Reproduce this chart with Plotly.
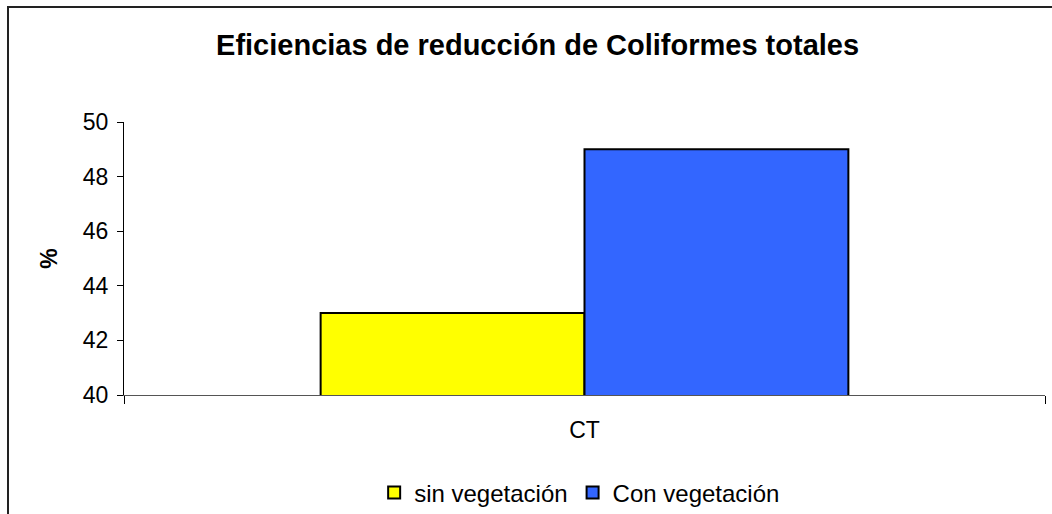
import plotly.graph_objects as go

categories = ["CT"]
sin_veg = [43]
con_veg = [49]
series_names = ["sin vegetación", "Con vegetación"]
y_ticks = [40, 42, 44, 46, 48, 50]

W, H = 1052, 514
L, R, T, B = 124, 7, 122, 119
plot_w = W - L - R
plot_h = H - T - B

fig = go.Figure()
fig.add_trace(go.Bar(x=categories, y=sin_veg, name=series_names[0],
                     marker=dict(color="#FFFF00", line=dict(color="black", width=2))))
fig.add_trace(go.Bar(x=categories, y=con_veg, name=series_names[1],
                     marker=dict(color="#3366FF", line=dict(color="black", width=2))))

# outer chart border (right and bottom edges fall outside the picture)
fig.add_shape(type="rect", xref="paper", yref="paper",
              x0=(8 - L) / plot_w, x1=(W + 20 - L) / plot_w,
              y0=-(B + 20) / plot_h, y1=1 + (T - 7) / plot_h,
              line=dict(color="#222222", width=2), fillcolor="rgba(0,0,0,0)")

fig.update_layout(
    width=W, height=H,
    margin=dict(l=L, r=R, t=T, b=B, autoexpand=False),
    paper_bgcolor="white", plot_bgcolor="white",
    barmode="group", bargap=0.427, bargroupgap=0,
    font=dict(family="Liberation Sans, Arial", color="black", size=23),
    title=dict(text="<b>Eficiencias de reducción de Coliformes totales</b>",
               x=0.511, xanchor="center", y=1 - 45 / H, yanchor="middle",
               font=dict(size=29)),
    showlegend=True,
    legend=dict(orientation="h", x=0.551, xanchor="center", xref="container",
                y=1 - 493 / H, yanchor="middle", yref="container",
                font=dict(size=24), itemwidth=30, traceorder="normal",
                bgcolor="rgba(0,0,0,0)"),
)
fig.update_xaxes(showline=True, linecolor="#555555", linewidth=1,
                 ticks="outside", tickson="boundaries", ticklen=8, tickcolor="black",
                 showgrid=False, tickfont=dict(size=23), ticklabelstandoff=14)
fig.update_yaxes(range=[40, 50], tickvals=y_ticks, showline=True, linecolor="black",
                 linewidth=1, ticks="outside", ticklen=6, tickcolor="black",
                 showgrid=False, zeroline=False, tickfont=dict(size=23),
                 ticklabelstandoff=4,
                 title=dict(text="<b>%</b>", font=dict(size=23), standoff=18))

fig.write_html("out.html", config={"displayModeBar": False},
               post_script="document.body.style.margin='0';")
